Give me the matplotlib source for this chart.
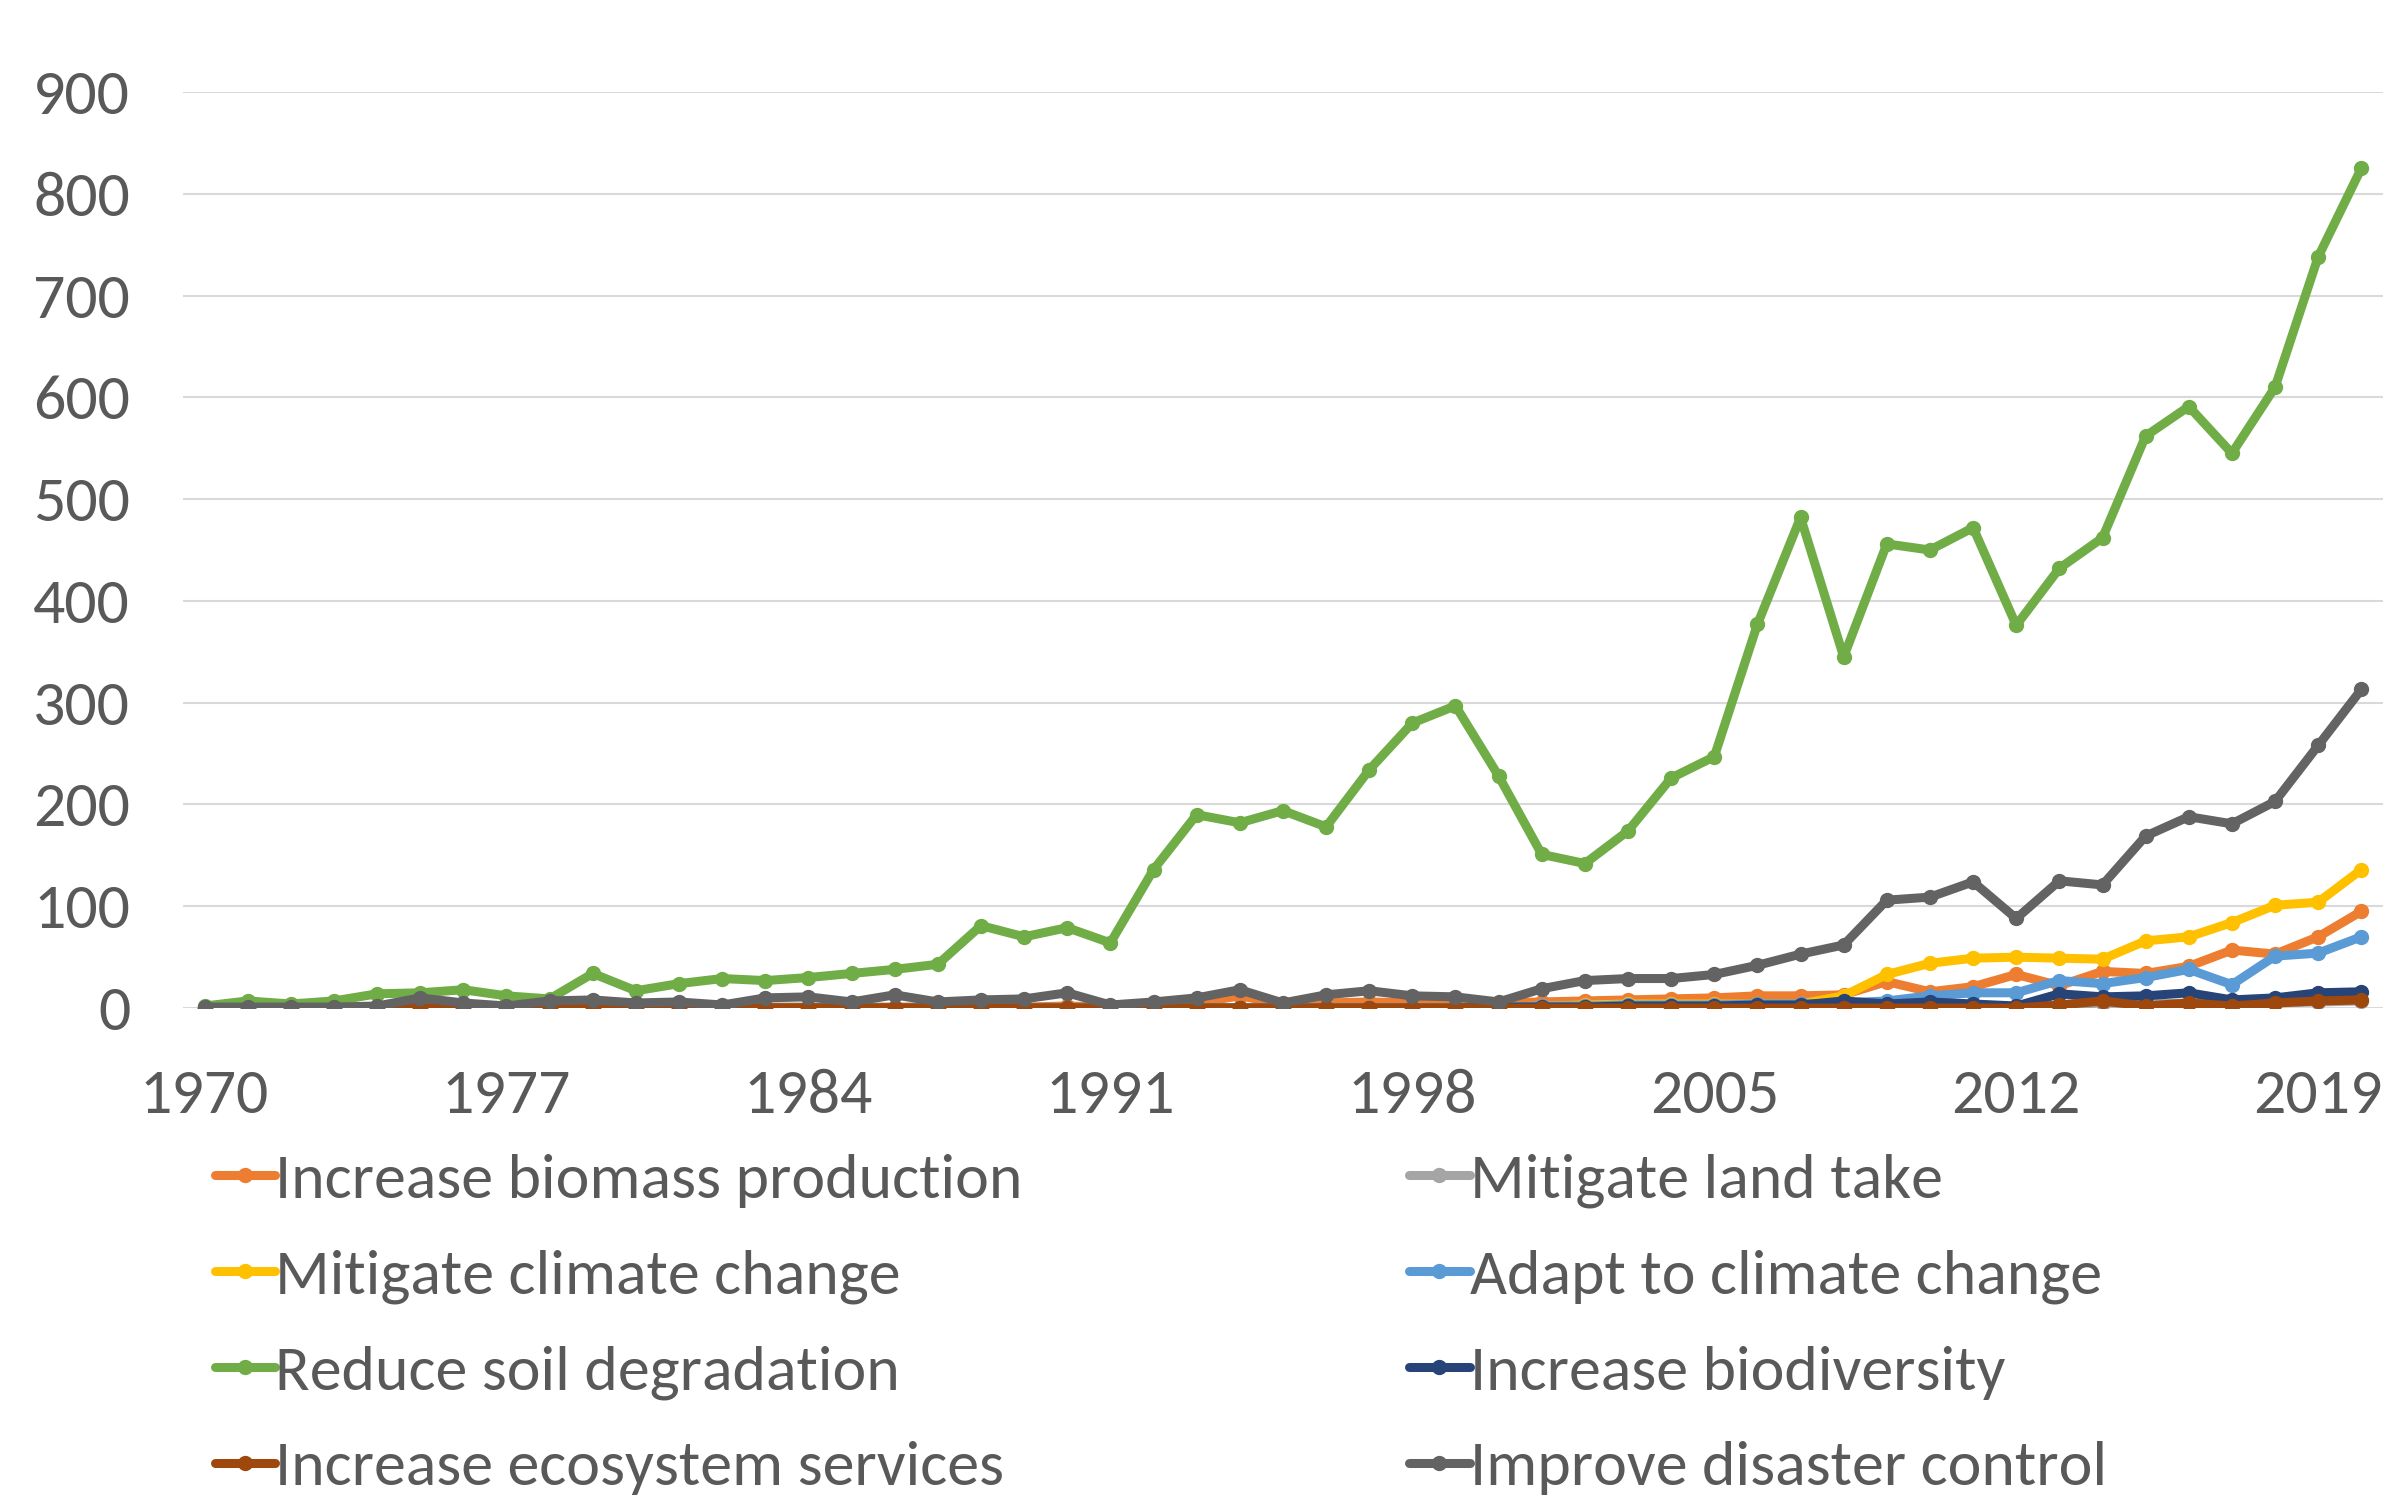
import matplotlib
matplotlib.use('Agg')
import matplotlib.pyplot as plt

years = list(range(1970, 2021))

biomass = [0, 0, 0, 0, 0, 0, 1, 0, 0, 0,
           0, 0, 0, 1, 1, 1, 1, 1, 1, 1,
           2, 1, 3, 5, 12, 4, 5, 6, 5, 4,
           5, 6, 7, 8, 9, 10, 12, 12, 13, 26,
           16, 21, 33, 22, 36, 34, 41, 57, 53, 70,
           95]
land_take = [0] * 43 + [3, 5, 4, 5, 3, 5, 6, 7]
climate_mit = [0] * 30 + [1, 2, 3, 4, 4, 4, 4, 4, 12, 33,
                          44, 49, 50, 49, 48, 66, 70, 84, 101, 104,
                          136]
climate_adapt = [0] * 30 + [1, 2, 2, 3, 3, 3, 4, 4, 5, 7,
                            12, 15, 15, 27, 24, 30, 38, 23, 51, 54,
                            70]
soil = [2, 7, 4, 7, 14, 15, 18, 12, 9, 34,
        17, 24, 29, 27, 30, 34, 38, 43, 81, 70,
        79, 64, 136, 190, 182, 194, 178, 234, 280, 297,
        228, 151, 142, 174, 226, 247, 377, 482, 345, 456,
        450, 472, 376, 432, 462, 562, 591, 545, 610, 738,
        825]
biodiversity = [0] * 30 + [1, 1, 1, 2, 2, 2, 3, 3, 7, 4,
                           6, 4, 2, 14, 11, 12, 15, 8, 10, 15,
                           16]
ecosystem = [0] * 43 + [3, 7, 2, 5, 2, 5, 7, 8]
disaster = [1, 1, 1, 1, 2, 10, 5, 2, 7, 8,
            5, 6, 3, 10, 11, 6, 13, 6, 8, 9,
            15, 3, 6, 10, 18, 5, 13, 17, 12, 11,
            6, 19, 27, 29, 29, 33, 42, 53, 62, 106,
            109, 124, 88, 125, 121, 169, 188, 181, 203, 258,
            313]

series = [
    ('Increase biomass production', biomass, '#ED7D31'),
    ('Mitigate land take', land_take, '#A5A5A5'),
    ('Mitigate climate change', climate_mit, '#FFC000'),
    ('Adapt to climate change', climate_adapt, '#5B9BD5'),
    ('Reduce soil degradation', soil, '#70AD47'),
    ('Increase biodiversity', biodiversity, '#264478'),
    ('Increase ecosystem services', ecosystem, '#9E480E'),
    ('Improve disaster control', disaster, '#636363'),
]

plt.rcParams['font.family'] = ['Carlito', 'Lato', 'DejaVu Sans']
txt = '#595959'

fig = plt.figure(figsize=(23.98, 15.03), dpi=100)
ax = fig.add_axes([0.0763, 0.3293, 0.9174, 0.6095])

handles = []
for name, vals, col in series:
    h, = ax.plot(years, vals, color=col, lw=6.5, marker='o', ms=10,
                 solid_capstyle='round', solid_joinstyle='round', label=name)
    handles.append(h)

ax.set_xlim(1969.5, 2020.5)
ax.set_ylim(0, 900)
ax.set_yticks(range(0, 901, 100))
ax.set_xticks(range(1970, 2021, 7))
ax.grid(axis='y', color='#D9D9D9', lw=1.5)
ax.set_axisbelow(True)
for s in ax.spines.values():
    s.set_visible(False)
ax.tick_params(length=0, labelsize=46, colors=txt)
ax.tick_params(axis='y', pad=38)
ax.tick_params(axis='x', pad=44)

order = [0, 2, 4, 6, 1, 3, 5, 7]
leg = fig.legend([handles[i] for i in order], [series[i][0] for i in order],
                 ncol=2, loc='upper left', bbox_to_anchor=(0.0788, 0.25),
                 frameon=False, fontsize=46, handlelength=0.95,
                 handletextpad=0.0, columnspacing=6.05, labelspacing=0.64,
                 borderaxespad=0)
for t in leg.get_texts():
    t.set_color(txt)

fig.savefig('out.png', dpi=100)
